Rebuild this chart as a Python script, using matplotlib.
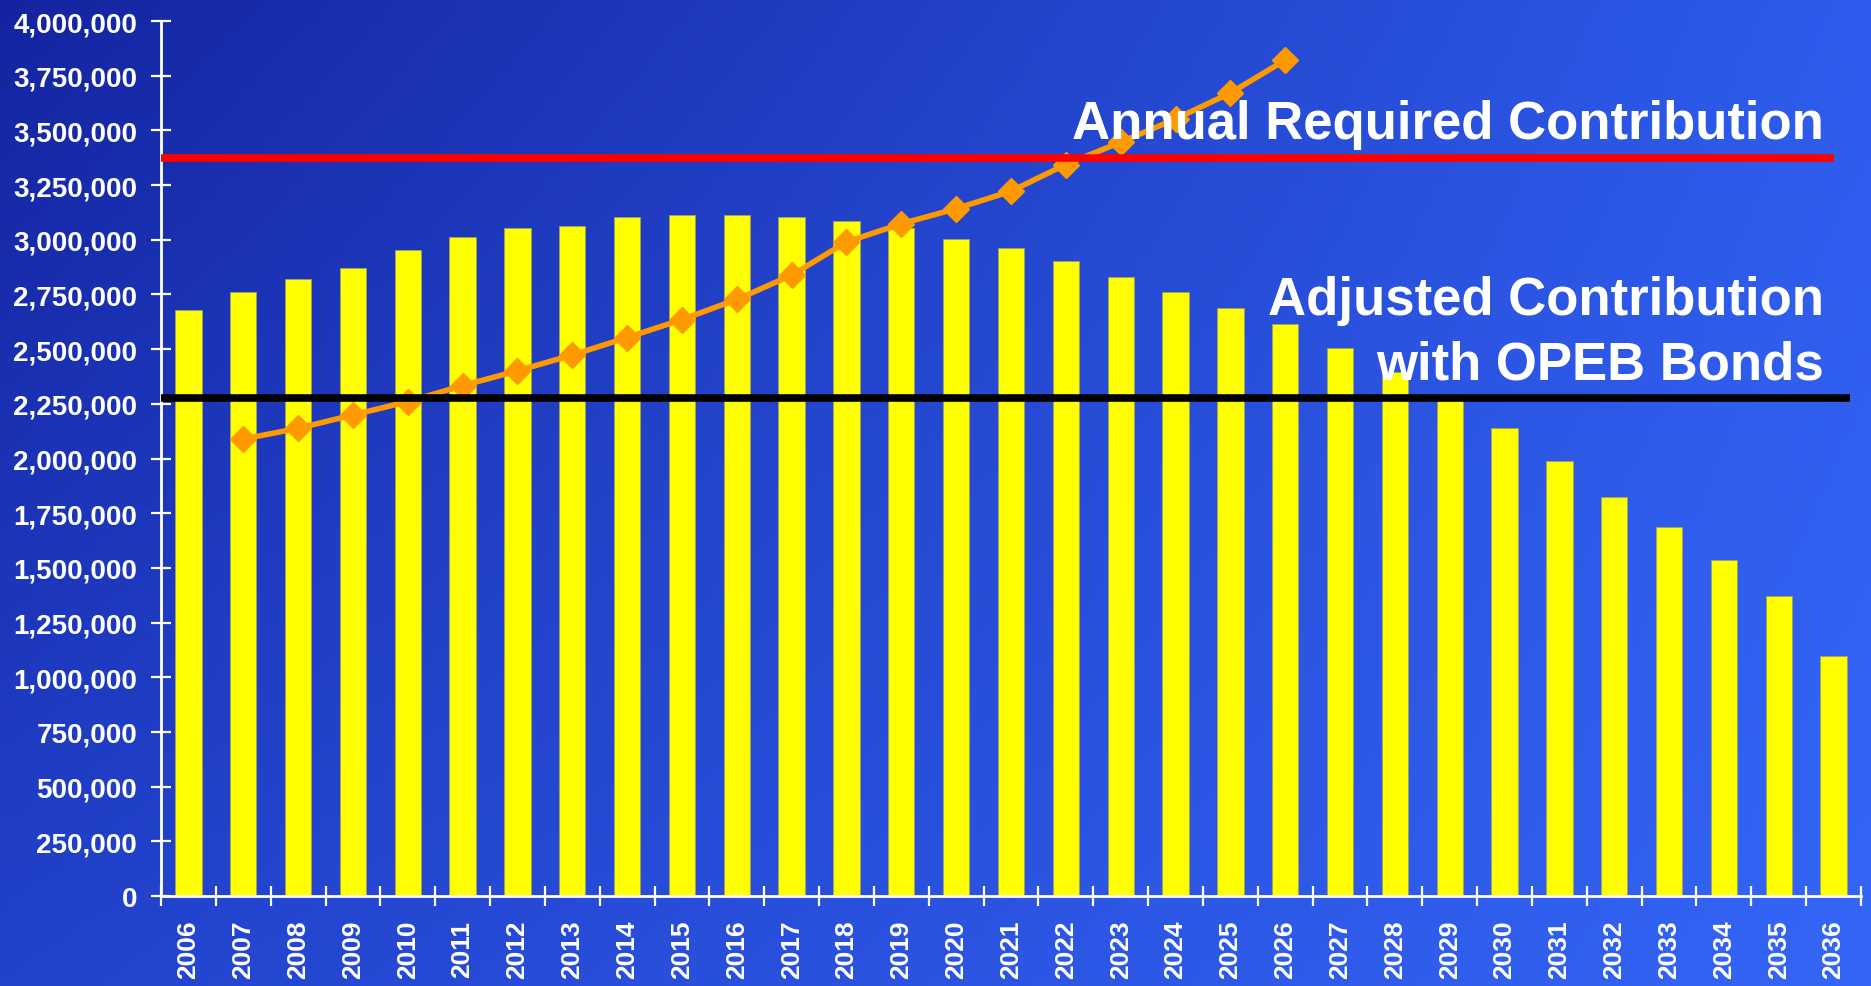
import numpy as np
import matplotlib.pyplot as plt
from matplotlib.ticker import FuncFormatter

## données
years = list(range(2006, 2037))
cost = [2678000, 2759000, 2821000, 2871000, 2952000, 3012000, 3053000, 3064000,
        3105000, 3114000, 3114000, 3105000, 3084000, 3053000, 3002000, 2962000,
        2901000, 2832000, 2759000, 2690000, 2617000, 2506000, 2396000, 2285000,
        2141000, 1989000, 1826000, 1686000, 1534000, 1372000, 1098000]
proj_years = list(range(2007, 2027))
proj = [2089000, 2138000, 2199000, 2260000, 2333000, 2401000, 2473000, 2553000,
        2635000, 2727000, 2838000, 2990000, 3073000, 3142000, 3222000, 3344000,
        3446000, 3552000, 3671000, 3821000]
arc_level = 3375000
adjusted_level = 2278000
y_ticks = list(range(0, 4000001, 250000))

plt.rcParams['font.family'] = ['Liberation Sans', 'DejaVu Sans']

W, H = 1871, 987
fig = plt.figure(figsize=(W / 100, H / 100), dpi=100)

### fond en dégradé bleu
bg = fig.add_axes([0, 0, 1, 1], zorder=0)
yy, xx = np.mgrid[0:1:200j, 0:1:380j]
tl = np.array([20, 36, 160])
tr = np.array([46, 92, 236])
bl = np.array([34, 66, 204])
br = np.array([52, 102, 246])
xx = xx[..., None]
yy = yy[..., None]
img = (tl * (1 - xx) * (1 - yy) + tr * xx * (1 - yy)
       + bl * (1 - xx) * yy + br * xx * yy) / 255
bg.imshow(img, extent=[0, 1, 0, 1], aspect='auto', origin='upper')
bg.axis('off')

### graphique principal
ax = fig.add_axes([161 / W, 1 - 897 / H, 1700 / W, 875 / H], zorder=1)
ax.patch.set_alpha(0)

x = np.arange(len(years))
ax.bar(x, cost, width=0.48, color='#FFFF00', edgecolor='#a0a060', linewidth=0.6, zorder=2)
px = [years.index(y) for y in proj_years]
ax.plot(px, proj, color='#FF9900', lw=4, marker='D', ms=13, zorder=3)
ax.hlines(arc_level, -0.5, 30.0, color='#FF0000', lw=5.5, zorder=4)
ax.hlines(adjusted_level, -0.5, 30.3, color='black', lw=5.5, zorder=4)

ax.set_xlim(-0.5, 30.5)
ax.set_ylim(0, 4000000)

ax.set_xticks(x)
ax.set_xticklabels(years, rotation=90, fontsize=19, color='white', fontweight='bold')
ax.tick_params(axis='x', which='major', length=0, pad=17)
ax.set_xticks(np.arange(-0.5, len(years)), minor=True)
ax.tick_params(axis='x', which='minor', direction='inout', length=13.7, width=1.6, color='white')

ax.set_yticks(y_ticks)
ax.yaxis.set_major_formatter(FuncFormatter(lambda v, p: '{:,.0f}'.format(v)))
ax.tick_params(axis='y', direction='inout', length=13.7, width=1.6, colors='white',
               labelsize=20, pad=10.4)
for lab in ax.get_yticklabels():
    lab.set_fontweight('bold')

for s in ['top', 'right']:
    ax.spines[s].set_visible(False)
for s in ['left', 'bottom']:
    ax.spines[s].set_color('white')
    ax.spines[s].set_linewidth(2)

### textes
fig.text(1824 / W, 1 - 139 / H, 'Annual Required Contribution', ha='right', va='baseline',
         fontsize=38, color='white', fontweight='bold', zorder=5)
fig.text(1824 / W, 1 - 315 / H, 'Adjusted Contribution', ha='right', va='baseline',
         fontsize=38, color='white', fontweight='bold', zorder=5)
fig.text(1824 / W, 1 - 380 / H, 'with OPEB Bonds', ha='right', va='baseline',
         fontsize=38, color='white', fontweight='bold', zorder=5)

fig.savefig('out.png', dpi=100)
